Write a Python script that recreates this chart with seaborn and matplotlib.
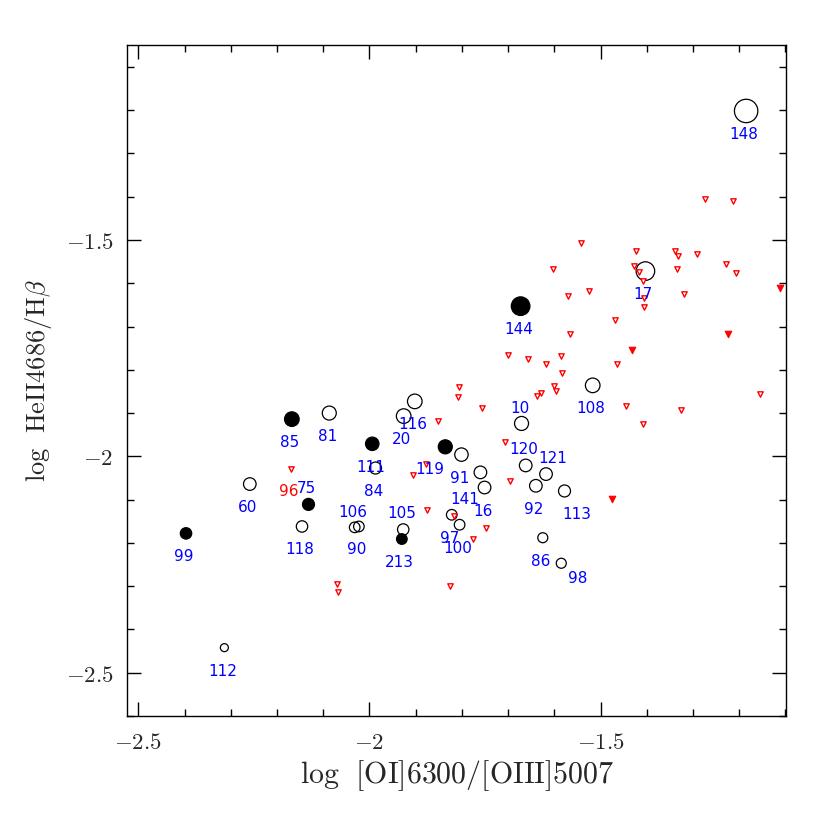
import matplotlib
matplotlib.use("Agg")
import matplotlib.pyplot as plt
import numpy as np
import pandas as pd
import seaborn as sns
from matplotlib.ticker import MultipleLocator, FuncFormatter

# labelled objects (circles)
names = ["148", "17", "144", "108", "10", "85", "81", "116", "20", "111",
         "84", "119", "91", "141", "16", "105", "213", "97", "100", "120",
         "121", "92", "113", "86", "98", "75", "60", "118", "106", "90",
         "99", "112"]
x_obj = [-1.185, -1.403, -1.673, -1.517, -1.671, -2.168, -2.087, -1.902, -1.926, -1.994,
         -1.987, -1.836, -1.801, -1.760, -1.751, -1.927, -1.930, -1.822, -1.805, -1.662,
         -1.618, -1.640, -1.578, -1.625, -1.585, -2.132, -2.259, -2.146, -2.032, -2.023,
         -2.397, -2.314]
y_obj = [-1.202, -1.572, -1.653, -1.836, -1.924, -1.914, -1.900, -1.873, -1.907, -1.971,
         -2.027, -1.978, -1.996, -2.037, -2.072, -2.169, -2.191, -2.135, -2.158, -2.021,
         -2.041, -2.068, -2.080, -2.188, -2.247, -2.111, -2.064, -2.162, -2.164, -2.162,
         -2.178, -2.442]
# symbol size (radius, px) as plotted
sym = [11.7, 9.3, 9.3, 7.3, 7.0, 7.3, 7.0, 7.3, 7.3, 6.7,
       6.0, 7.0, 6.7, 6.3, 6.3, 5.7, 5.3, 5.3, 5.3, 6.3,
       6.3, 6.3, 6.0, 5.0, 5.0, 6.0, 6.3, 5.7, 5.3, 5.3,
       5.7, 4.0]
filled = [False, False, True, False, False, True, False, False, False, True,
          False, True, False, False, False, False, True, False, False, False,
          False, False, False, False, False, True, False, False, False, False,
          True, False]

# upper limits (open red triangles)
tri_x = [-1.806, -1.809, -1.756, -1.852, -1.637, -1.628, -1.601, -1.596, -1.706, -1.878,
         -1.906, -1.697, -1.876, -1.817, -1.747, -1.776, -1.826, -2.070, -2.068, -1.542,
         -1.424, -1.338, -1.332, -1.292, -1.602, -1.428, -1.416, -1.335, -1.229, -1.206,
         -1.409, -1.525, -1.571, -1.406, -1.405, -1.319, -1.468, -1.566, -1.700, -1.656,
         -1.618, -1.586, -1.465, -1.584, -1.156, -1.445, -1.327, -1.408, -1.274, -1.213,
         -2.170]
tri_y = [-1.839, -1.864, -1.889, -1.918, -1.861, -1.853, -1.837, -1.849, -1.968, -2.018,
         -2.042, -2.056, -2.124, -2.138, -2.165, -2.192, -2.300, -2.295, -2.314, -1.506,
         -1.526, -1.526, -1.537, -1.532, -1.566, -1.560, -1.573, -1.566, -1.555, -1.576,
         -1.595, -1.619, -1.630, -1.633, -1.656, -1.626, -1.685, -1.718, -1.766, -1.776,
         -1.786, -1.769, -1.787, -1.808, -1.856, -1.883, -1.893, -1.926, -1.406, -1.409,
         -2.029]
# filled red triangles
trif_x = [-1.112, -1.225, -1.431, -1.476]
trif_y = [-1.610, -1.718, -1.754, -2.098]

# label placement (px right, px down from the symbol); default below
label_off = {"10": (-1.3, -16.4), "119": (-15.3, 21.6), "141": (-15.7, 26),
             "105": (-1.7, -17), "120": (-2, -17.4), "121": (6.7, -16.7),
             "113": (12.4, 21.7), "98": (16, 13.4), "75": (-2.6, -17),
             "106": (-1.4, -16.3)}

sns.set_style("ticks")
plt.rcParams["mathtext.fontset"] = "cm"
plt.rcParams["font.family"] = ["DejaVu Sans"]

fig = plt.figure(figsize=(8.3, 8.3), dpi=100)
ax = fig.add_axes([0.1534, 0.1373, 0.794, 0.8088])

px2pt = 72 / 100.0

sns.scatterplot(x=tri_x, y=tri_y, marker="v", s=15, facecolor="white",
                edgecolor="red", linewidth=1.0, ax=ax, zorder=3)
sns.scatterplot(x=trif_x, y=trif_y, marker="v", s=22, color="red",
                edgecolor="red", linewidth=0.8, ax=ax, zorder=3)

circ = pd.DataFrame({"x": x_obj, "y": y_obj, "r": sym, "filled": filled})
area = (2 * circ["r"] * px2pt) ** 2
for is_f in (False, True):
    sub = circ[circ["filled"] == is_f]
    sns.scatterplot(data=sub, x="x", y="y", s=area[sub.index].values, marker="o",
                    facecolor="black" if is_f else "none", edgecolor="black",
                    linewidth=0.9, ax=ax, zorder=2)

for nm, xv, yv in zip(names, x_obj, y_obj):
    dx, dy = label_off.get(nm, (-2, 22))
    ax.annotate(nm, (xv, yv), xytext=(dx * px2pt, -dy * px2pt),
                textcoords="offset points", ha="center", va="center_baseline",
                color="blue", fontsize=11, zorder=4)
ax.annotate("96", (tri_x[-1], tri_y[-1]), xytext=(-2.4 * px2pt, -21 * px2pt),
            textcoords="offset points", ha="center", va="center_baseline",
            color="red", fontsize=11, zorder=4)

ax.set_xlim(-2.524, -1.098)
ax.set_ylim(-2.6, -1.049)
ax.xaxis.set_major_locator(MultipleLocator(0.5))
ax.xaxis.set_minor_locator(MultipleLocator(0.1))
ax.yaxis.set_major_locator(MultipleLocator(0.5))
ax.yaxis.set_minor_locator(MultipleLocator(0.1))
fmt = FuncFormatter(lambda v, p: f"${v:g}$")
ax.xaxis.set_major_formatter(fmt)
ax.yaxis.set_major_formatter(fmt)
ax.tick_params(which="both", direction="in", top=True, right=True,
               width=1.0, color="black", labelsize=16.5)
ax.tick_params(which="major", length=10)
ax.tick_params(which="minor", length=5)
ax.tick_params(axis="x", pad=11)
ax.tick_params(axis="y", pad=10)
for sp in ax.spines.values():
    sp.set_linewidth(1.0)
    sp.set_color("black")

ax.set_xlabel(r"$\mathrm{log\ \ [OI]6300/[OIII]5007}$", fontsize=21.5, labelpad=3)
ax.set_ylabel(r"$\mathrm{log\ \ HeII4686/H}\beta$", fontsize=19, labelpad=8)

fig.savefig("out.png", dpi=100)
